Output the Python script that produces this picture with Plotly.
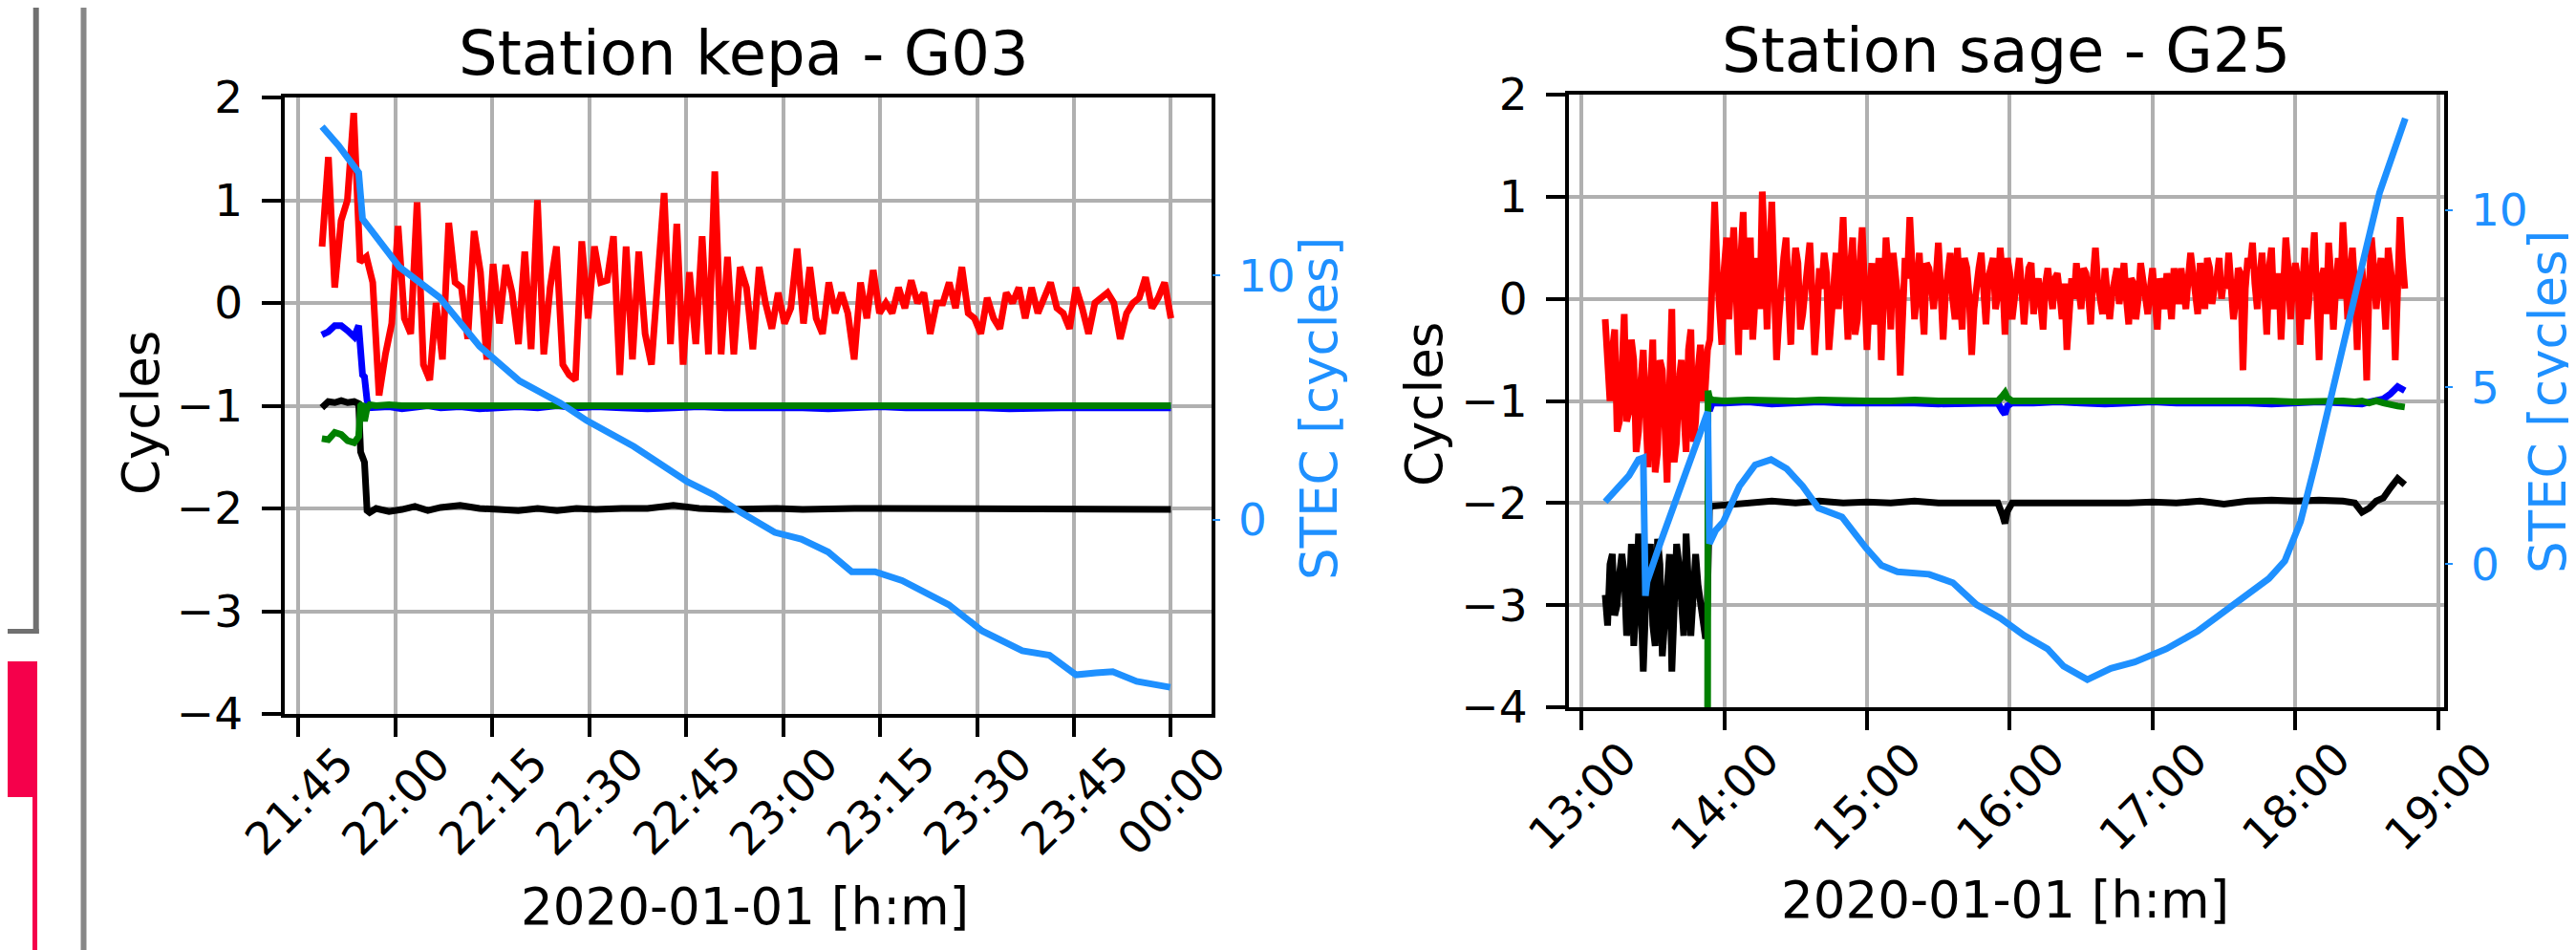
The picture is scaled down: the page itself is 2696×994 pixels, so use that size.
import pandas as pd
import plotly.graph_objects as go

W, H = 2696, 994
FONT = "DejaVu Sans"
STEC_COLOR = "#1e90ff"

# ---------------- Station kepa - G03 ----------------
kepa_title = "Station kepa - G03"
kepa_origin = "2020-01-01 21:45:00"
kepa_red_span = ("2020-01-01 21:48:38", "2020-01-02 00:00:00")
kepa_red = [
    0.55, 1.42, 0.15, 0.8, 1.0, 1.85, 0.4, 0.45, 0.2, -0.9,
    -0.5, -0.2, 0.75, -0.15, -0.3, 0.98, -0.6, -0.75, 0.0, -0.55,
    0.78, 0.2, 0.15, -0.35, 0.7, 0.3, -0.55, 0.38, -0.2, 0.37,
    0.1, -0.4, 0.5, -0.45, 1.0, -0.5, 0.15, 0.55, -0.6, -0.7,
    -0.75, 0.6, -0.15, 0.55, 0.2, 0.22, 0.65, -0.7, 0.55, -0.55,
    0.5, -0.3, -0.6, 0.3, 1.07, -0.4, 0.77, -0.6, 0.3, -0.4,
    0.65, -0.5, 1.28, -0.5, 0.45, -0.5, 0.35, 0.15, -0.45, 0.35,
    0.0, -0.25, 0.1, -0.2, -0.05, 0.53, -0.2, 0.35, -0.15, -0.3,
    0.2, -0.1, 0.1, -0.1, -0.55, 0.2, -0.15, 0.32, -0.1, 0.0,
    -0.1, 0.15, -0.05, 0.22, 0.0, 0.1, -0.3, 0.0, 0.0, 0.2,
    -0.05, 0.35, -0.1, -0.15, -0.3, 0.05, -0.15, -0.25, 0.1, 0.0,
    0.15, -0.15, 0.15, -0.1, 0.05, 0.2, -0.05, -0.1, -0.25, 0.15,
    -0.05, -0.3, 0.0, 0.05, 0.1, 0.0, -0.35, -0.1, 0.0, 0.05,
    0.25, -0.05, 0.05, 0.2, -0.15,
]
kepa_aux_min = [3.6, 4.6, 5.6, 6.6, 7.6, 8.6, 9.3, 9.6, 9.9, 10.2, 10.6, 11.0,
                12, 14, 16, 18, 20, 22, 25, 28, 31, 34, 37, 40, 43, 46,
                50, 54, 58, 62, 66, 70, 74, 78, 82, 86, 90, 94, 98, 102,
                106, 110, 114, 118, 122, 126, 130, 135]
kepa_blue = [-0.31, -0.28, -0.22, -0.22, -0.27, -0.33, -0.22, -0.45, -0.70, -0.72, -0.95, -1.02,
             -1.02, -1.01, -1.03, -1.02, -1.00, -1.02,
             -1.01, -1.03, -1.02, -1.01, -1.02, -1.00,
             -1.02, -1.01, -1.02, -1.03, -1.02, -1.01,
             -1.02, -1.02, -1.01, -1.02, -1.03, -1.02,
             -1.01, -1.02, -1.02, -1.01, -1.02, -1.03,
             -1.02, -1.02, -1.02, -1.02, -1.02, -1.02]
kepa_black = [-1.02, -0.96, -0.97, -0.95, -0.97, -0.96, -0.98, -1.45, -1.50, -1.55, -2.02, -2.04,
              -2.00, -2.03, -2.01, -1.98, -2.02, -1.99,
              -1.97, -2.00, -2.01, -2.02, -2.00, -2.02,
              -2.00, -2.01, -2.00, -2.00, -1.97, -2.00,
              -2.01, -2.00, -2.00, -2.01, -2.00, -2.00,
              -2.00, -2.00, -2.01, -2.00, -2.00, -2.01,
              -2.00, -2.00, -2.00, -2.00, -2.01, -2.01]
kepa_green = [-1.32, -1.33, -1.26, -1.28, -1.34, -1.36, -1.30, -1.00, -0.98, -1.15, -1.02, -0.99,
              -1.00, -0.99, -1.00, -1.00, -0.99, -1.00,
              -1.00, -0.99, -1.00, -1.00, -1.00, -0.99,
              -1.00, -1.00, -1.00, -0.99, -1.00, -1.00,
              -1.00, -1.00, -0.99, -1.00, -1.00, -1.00,
              -0.99, -1.00, -1.00, -1.00, -1.00, -0.99,
              -1.00, -1.00, -1.00, -1.00, -1.00, -1.00]
kepa_stec_min = [3.63, 6.2, 9.3, 9.5, 9.9, 10.9, 15.6, 21.8, 28.0, 34.2, 40.5, 44.6,
                 51.9, 60.2, 64.3, 68.5, 73.7, 77.8, 81.95, 85.6, 89.2, 93.4, 100.6,
                 105.8, 112.0, 116.2, 120.3, 123.4, 126.0, 129.7, 134.9]
kepa_stec = [16.08, 15.3, 14.2, 13.2, 12.3, 11.96, 10.34, 9.1, 7.1, 5.68, 4.78, 4.06,
             3.0, 1.56, 1.02, 0.30, -0.51, -0.78, -1.31, -2.12, -2.12, -2.48, -3.46,
             -4.54, -5.35, -5.53, -6.33, -6.25, -6.2, -6.6, -6.84]
kepa_xticks = ["2020-01-01 21:45", "2020-01-01 22:00", "2020-01-01 22:15", "2020-01-01 22:30",
               "2020-01-01 22:45", "2020-01-01 23:00", "2020-01-01 23:15", "2020-01-01 23:30",
               "2020-01-01 23:45", "2020-01-02 00:00"]
kepa_xrange = ["2020-01-01 21:42:47", "2020-01-02 00:06:13"]
kepa_stec_range = [-7.93, 17.27]
kepa_stec_ticks = [0, 10]

# ---------------- Station sage - G25 ----------------
sage_title = "Station sage - G25"
sage_origin = "2020-01-01 13:00:00"
sage_red_span = ("2020-01-01 13:10:00", "2020-01-01 18:46:00")
sage_red = [
    # 13:10 - 13:52
    -0.2, -0.8, -1.0, -0.5, -0.3, -1.3, -1.2, -0.7, -0.15, -1.2,
    -1.1, -0.4, -0.6, -1.5, -1.3, -0.8, -0.5, -1.1, -1.65, -0.9,
    -0.4, -1.7, -1.5, -0.6, -0.7, -1.2, -1.8, -0.9, -0.1, -1.6,
    -1.4, -0.8, -0.6, -1.1, -1.5, -0.5, -0.3, -1.4, -1.2, -0.7,
    -0.45, -1.0, -0.9,
    # 13:53 - 14:20
    -0.5, -0.4, 0.2, 0.95, 0.3, 0.0, -0.45, 0.3, 0.6, -0.2,
    0.25, 0.7, 0.1, -0.55, 0.4, 0.85, -0.3, 0.1, 0.6, -0.4,
    0.2, 0.4, -0.1, 1.05, 0.5, -0.3, 0.3, 0.95,
    # 14:21 - 15:14
    0.2, -0.6, -0.2, 0.2, 0.4, 0.6, 0.0, -0.45, 0.2, 0.5,
    0.35, -0.3, -0.15, 0.1, 0.4, 0.55, 0.05, -0.55, -0.2, 0.3,
    0.1, 0.45, 0.25, -0.5, -0.2, 0.2, 0.45, -0.1, 0.3, 0.8,
    0.1, -0.4, 0.3, 0.6, -0.35, -0.2, 0.35, 0.7, 0.1, -0.5,
    0.0, 0.35, -0.25, 0.1, 0.4, -0.6, 0.15, 0.6, 0.3, -0.3,
    0.45, 0.2, 0.0, -0.75,
    # 15:15 - 16:16
    0.1, 0.4, 0.2, 0.8, 0.3, -0.2, 0.1, 0.45, 0.0, -0.35,
    0.35, 0.3, 0.15, -0.1, 0.2, 0.55, 0.1, -0.4, 0.05, 0.35,
    0.45, 0.0, -0.2, 0.5, 0.15, -0.3, 0.4, 0.3, 0.0, -0.55,
    -0.1, 0.2, 0.3, 0.45, 0.1, -0.25, 0.2, 0.35, 0.4, -0.1,
    0.05, 0.5, 0.2, -0.35, 0.4, 0.25, -0.2, 0.0, 0.3, 0.4,
    0.1, -0.25, 0.05, 0.3, 0.35, -0.15, 0.1, 0.2, -0.05, -0.3,
    0.15, 0.3,
    # 16:17 - 17:30
    0.1, -0.1, 0.2, 0.25, 0.05, -0.2, 0.15, -0.5, -0.15, 0.2,
    0.0, 0.35, 0.1, -0.1, 0.3, 0.25, 0.05, -0.25, 0.2, 0.5,
    0.15, 0.0, -0.15, 0.3, 0.1, -0.2, 0.05, 0.2, 0.3, -0.05,
    0.1, 0.35, 0.0, -0.25, 0.2, 0.15, -0.2, 0.0, 0.35, 0.2,
    0.05, -0.15, 0.1, 0.3, 0.0, -0.3, 0.2, 0.1, -0.1, 0.25,
    0.05, -0.2, 0.3, 0.15, -0.05, 0.3, 0.1, -0.1, 0.2, 0.45,
    0.25, 0.0, -0.15, 0.35, 0.2, -0.1, 0.4, 0.3, -0.05, 0.1,
    0.2, 0.4, 0.0, 0.2,
    # 17:31 - 18:46
    0.1, 0.45, 0.2, -0.2, 0.0, 0.3, 0.25, -0.7, 0.1, 0.4,
    0.3, 0.55, 0.15, -0.1, 0.2, 0.45, 0.1, -0.35, 0.3, 0.5,
    -0.1, 0.1, 0.25, -0.4, 0.1, 0.6, 0.3, -0.2, 0.15, 0.35,
    0.2, -0.45, 0.1, 0.5, -0.2, 0.0, 0.3, 0.65, 0.1, -0.6,
    0.2, 0.3, -0.15, 0.55, 0.2, -0.3, 0.1, 0.4, 0.0, 0.75,
    0.3, -0.2, 0.2, 0.5, 0.1, -0.5, 0.2, 0.3, 0.0, -0.8,
    0.1, 0.6, 0.3, -0.1, 0.2, 0.4, 0.1, -0.3, 0.5, 0.3,
    0.1, -0.6, 0.2, 0.8, 0.4, 0.1,
]
sage_aux_min = list(range(10, 53)) + [
    52.6, 53.2, 53.8, 55, 60, 70, 80, 90, 100, 110, 120, 130, 140, 150, 160, 170,
    175, 177, 178, 179, 181, 190, 200, 210, 220, 230, 240, 250, 260, 270, 280,
    290, 300, 310, 320, 325, 328, 331, 334, 337, 340, 343, 346]
sage_black = [
    -2.9, -3.2, -2.6, -2.5, -3.1, -3.0, -2.7, -2.5, -2.7, -3.3,
    -2.95, -2.4, -3.4, -3.0, -2.3, -2.8, -3.65, -3.0, -2.6, -2.4,
    -3.2, -3.4, -2.35, -2.6, -3.5, -3.1, -2.8, -2.5, -3.65, -2.9,
    -2.4, -2.6, -3.1, -3.3, -2.3, -2.7, -3.3, -2.9, -2.5, -2.8,
    -3.0, -3.2, -3.3,
    -3.3, -2.3, -2.05, -2.03,
    -2.02, -2.00, -1.98, -2.00, -1.98, -2.00, -1.99, -2.00, -1.98, -2.00, -2.00, -1.99,
    -2.00, -2.12, -2.20, -2.08, -2.00,
    -2.00, -2.00, -2.01, -2.00, -2.00, -1.99, -2.00, -1.98, -2.01, -1.98,
    -1.97, -1.98, -1.97, -1.98,
    -2.00, -2.09, -2.05, -1.98, -1.95, -1.85, -1.76, -1.82]
sage_blue = [None] * 45 + [
    -1.10, -1.02,
    -1.02, -1.01, -1.03, -1.02, -1.01, -1.02, -1.02, -1.01, -1.02, -1.03, -1.02, -1.02,
    -1.02, -1.10, -1.13, -1.05, -1.02,
    -1.02, -1.01, -1.02, -1.03, -1.02, -1.01, -1.02, -1.02, -1.01, -1.02,
    -1.03, -1.02, -1.01, -1.02,
    -1.02, -1.03, -1.01, -1.00, -0.98, -0.93, -0.86, -0.90]
sage_green = [None] * 43 + [
    -12.0, -0.90, -0.97, -0.99,
    -1.00, -0.99, -1.00, -1.00, -0.99, -1.00, -1.00, -1.00, -0.99, -1.00, -1.00, -1.00,
    -1.00, -0.95, -0.92, -0.97, -1.00,
    -1.00, -1.00, -0.99, -1.00, -1.00, -1.00, -1.00, -0.99, -1.00, -1.00,
    -1.00, -1.01, -1.00, -1.00,
    -1.01, -1.00, -1.02, -1.00, -1.02, -1.04, -1.05, -1.06]
sage_stec_min = [10, 15, 20, 24, 26, 26.9, 27.6, 33.2, 43.1, 51.4, 53.1, 53.8, 56.4, 59.7,
                 66.4, 73.0, 79.7, 86.3, 93.0, 99.6, 109.5, 119.5, 126.1, 132.8, 146.1,
                 156.1, 166.0, 176.0, 186.0, 195.9, 202.6, 212.6, 222.5, 232.5, 245.8,
                 259.0, 269.0, 279.0, 288.9, 295.6, 302.2, 308.8, 315.5, 322.1, 328.8,
                 335.4, 346.2]
sage_stec = [1.76, 2.1, 2.5, 2.95, 3.0, -0.9, -0.5, 0.6, 2.5, 4.1, 4.3, 0.58, 0.95, 1.2,
             2.2, 2.8, 2.95, 2.69, 2.2, 1.58, 1.33, 0.46, -0.04, -0.22, -0.29,
             -0.53, -1.15, -1.53, -2.02, -2.4, -2.89, -3.27, -2.95, -2.77, -2.4,
             -1.9, -1.4, -0.85, -0.41, 0.09, 1.2, 2.95, 4.92, 6.66, 8.65,
             10.5, 12.6]
sage_xticks = ["2020-01-01 13:00", "2020-01-01 14:00", "2020-01-01 15:00", "2020-01-01 16:00",
               "2020-01-01 17:00", "2020-01-01 18:00", "2020-01-01 19:00"]
sage_xrange = ["2020-01-01 12:54:45", "2020-01-01 19:02:20"]
sage_stec_range = [-4.05, 13.27]
sage_stec_ticks = [0, 5, 10]

x_label = "2020-01-01 [h:m]"
y_label = "Cycles"
stec_label = "STEC [cycles]"


def at(origin, minutes):
    base = pd.Timestamp(origin)
    return [base + pd.Timedelta(minutes=float(m)) for m in minutes]


def span(rng, n):
    return pd.date_range(rng[0], rng[1], periods=n)


fig = go.Figure()


def add_panel(xa, ya, ya2, red_x, red, aux_x, blue, black, green, stec_x, stec):
    for xs, ys, col in [(red_x, red, "#ff0000"), (aux_x, blue, "#0000ff"),
                        (aux_x, black, "#000000"), (aux_x, green, "#008000")]:
        fig.add_trace(go.Scatter(x=xs, y=ys, mode="lines", xaxis=xa, yaxis=ya,
                                 line=dict(color=col, width=7), showlegend=False,
                                 hoverinfo="skip"))
    fig.add_trace(go.Scatter(x=stec_x, y=stec, mode="lines", xaxis=xa, yaxis=ya2,
                             line=dict(color=STEC_COLOR, width=7), showlegend=False,
                             hoverinfo="skip"))


add_panel("x", "y", "y2", span(kepa_red_span, len(kepa_red)), kepa_red,
          at(kepa_origin, kepa_aux_min), kepa_blue, kepa_black, kepa_green,
          at(kepa_origin, kepa_stec_min), kepa_stec)
add_panel("x2", "y3", "y4", span(sage_red_span, len(sage_red)), sage_red,
          at(sage_origin, sage_aux_min), sage_blue, sage_black, sage_green,
          at(sage_origin, sage_stec_min), sage_stec)

GRID = "#b0b0b0"


def xaxis(dom, rng, ticks, anchor):
    return dict(domain=dom, anchor=anchor, type="date", range=rng, tickmode="array",
                tickvals=ticks, showticklabels=False, ticks="outside", ticklen=20,
                tickwidth=4, tickcolor="black", showgrid=True, gridcolor=GRID, gridwidth=3.5,
                showline=True, linecolor="black", linewidth=4, mirror=True, zeroline=False,
                automargin=False)


def yaxis(dom, anchor):
    return dict(domain=dom, anchor=anchor, range=[-4, 2], tick0=0, dtick=1,
                ticks="outside", ticklen=20, tickwidth=4, tickcolor="black",
                tickfont=dict(family=FONT, size=47, color="black"), ticklabelstandoff=10,
                showgrid=True, gridcolor=GRID, gridwidth=3.5, showline=True,
                linecolor="black", linewidth=4, mirror=True, zeroline=False,
                automargin=False)


def yaxis_stec(over, anchor, rng, ticks):
    return dict(overlaying=over, anchor=anchor, side="right", range=rng, tickmode="array",
                tickvals=ticks, ticks="outside", ticklen=8, tickwidth=2, tickcolor=STEC_COLOR,
                tickfont=dict(family=FONT, size=47, color=STEC_COLOR), ticklabelstandoff=10,
                showgrid=False, zeroline=False, showline=False, automargin=False)


kx = [289.5 / W, 1259.5 / W]
ky = [1 - 739 / H, 1 - 94 / H]
sx = [1634 / W, 2549.5 / W]
sy = [1 - 732 / H, 1 - 91 / H]

annotations = []


def text(x, y, s, size, color="black", angle=0, xref="paper"):
    annotations.append(dict(x=x, y=y, xref=xref, yref="paper", text=s, showarrow=False,
                            textangle=angle, xanchor="center", yanchor="middle",
                            font=dict(family=FONT, size=size, color=color)))


text(770 / W, 1 - 48 / H, kepa_title, 64)
text(2091 / W, 1 - 45 / H, sage_title, 64)
text(139 / W, 1 - 424 / H, y_label, 53, angle=-90)
text(1482 / W, 1 - 415 / H, y_label, 53, angle=-90)
text(1372 / W, 1 - 420 / H, stec_label, 53, STEC_COLOR, angle=-90)
text(2658 / W, 1 - 413 / H, stec_label, 53, STEC_COLOR, angle=-90)
text(771 / W, 1 - 940 / H, x_label, 53)
text(2090 / W, 1 - 933 / H, x_label, 53)
for t in kepa_xticks:
    text(t, 1 - 830 / H, pd.Timestamp(t).strftime("%H:%M"), 47, angle=-45, xref="x")
for t in sage_xticks:
    text(t, 1 - 825 / H, pd.Timestamp(t).strftime("%H:%M"), 47, angle=-45, xref="x2")

PINK = "#f5004b"
shapes = [
    dict(type="line", xref="paper", yref="paper", x0=29.7 / W, x1=29.7 / W, y0=1, y1=1 - 655 / H,
         line=dict(color="#707070", width=6)),
    dict(type="line", xref="paper", yref="paper", x0=0, x1=32.7 / W, y0=1 - 652.5 / H,
         y1=1 - 652.5 / H, line=dict(color="#707070", width=5)),
    dict(type="line", xref="paper", yref="paper", x0=79.5 / W, x1=79.5 / W, y0=0, y1=1,
         line=dict(color="#878787", width=6)),
    dict(type="rect", xref="paper", yref="paper", x0=0, x1=31 / W, y0=1 - 826 / H,
         y1=1 - 684 / H, fillcolor=PINK, line=dict(width=0)),
    dict(type="rect", xref="paper", yref="paper", x0=26 / W, x1=31 / W, y0=0,
         y1=1 - 826 / H, fillcolor=PINK, line=dict(width=0)),
]

fig.update_layout(
    template="none",
    width=W, height=H, autosize=False,
    margin=dict(l=0, r=0, t=0, b=0, pad=0, autoexpand=False),
    paper_bgcolor="white", plot_bgcolor="white",
    font=dict(family=FONT, size=47, color="black"),
    showlegend=False,
    xaxis=xaxis(kx, kepa_xrange, kepa_xticks, "y"),
    yaxis=yaxis(ky, "x"),
    yaxis2=yaxis_stec("y", "x", kepa_stec_range, kepa_stec_ticks),
    xaxis2=xaxis(sx, sage_xrange, sage_xticks, "y3"),
    yaxis3=yaxis(sy, "x2"),
    yaxis4=yaxis_stec("y3", "x2", sage_stec_range, sage_stec_ticks),
    annotations=annotations,
    shapes=shapes,
)

fig.write_html("out.html")
